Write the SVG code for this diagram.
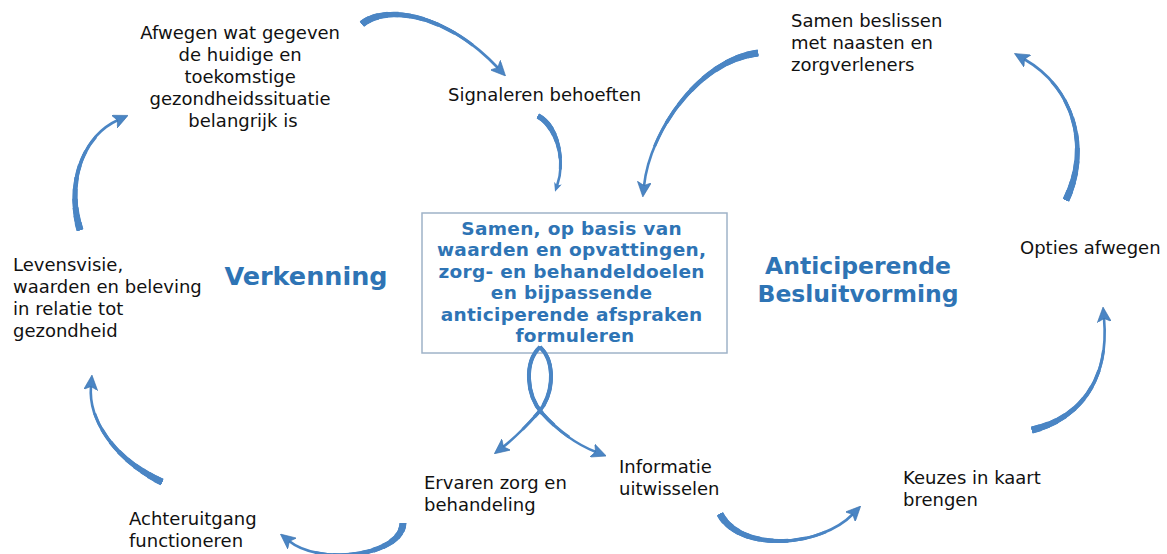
<svg xmlns="http://www.w3.org/2000/svg" width="1167" height="554" viewBox="0 0 1167 554">
<style>
.lbl{font-family:"DejaVu Sans","Liberation Sans",sans-serif;font-size:18px;fill:#111}
.ttl{font-family:"DejaVu Sans","Liberation Sans",sans-serif;font-weight:bold;fill:#2e74b5}
.box{fill:#fff;stroke:#9fb3c8;stroke-width:1.5}
use{fill:none;stroke:#4a85c4}
.a0{stroke-width:2.6;marker-end:url(#ah)}
.as{stroke-width:2.6;marker-end:url(#ahs)}
.t1{stroke-width:7;stroke-dasharray:6 300}
.t2{stroke-width:6.5;stroke-dasharray:12 300}
.t3{stroke-width:6;stroke-dasharray:18 300}
.t4{stroke-width:5.5;stroke-dasharray:25 300}
.t5{stroke-width:5;stroke-dasharray:33 300}
.t6{stroke-width:4.5;stroke-dasharray:42 300}
.t7{stroke-width:4;stroke-dasharray:52 300}
.t8{stroke-width:3.5;stroke-dasharray:64 300}
.t9{stroke-width:3;stroke-dasharray:78 300}
</style>
<defs>
<marker id="ah" markerUnits="userSpaceOnUse" markerWidth="15" markerHeight="14" refX="4" refY="7" orient="auto" viewBox="0 0 15 14">
<path d="M0,0 L15,7 L0,14 L3.5,7 Z" fill="#4a85c4" stroke="#3b72ad" stroke-width="0.6"/>
</marker>
<marker id="ahs" markerUnits="userSpaceOnUse" markerWidth="9" markerHeight="8" refX="3" refY="4" orient="auto" viewBox="0 0 9 8">
<path d="M0,0 L9,4 L0,8 L2.5,4 Z" fill="#4a85c4"/>
</marker>
<path id="pA" pathLength="100" d="M362,24 C385,5 445,12 498,68"/>
<path id="pB" pathLength="100" d="M538,116 C557,126 566,160 557,186"/>
<path id="pC" pathLength="100" d="M758,53 C700,60 650,130 644,186"/>
<path id="pD" pathLength="100" d="M1066,200 C1090,150 1076,89 1024,59"/>
<path id="pE" pathLength="100" d="M1032,430 C1075,420 1110,385 1104,318"/>
<path id="pF" pathLength="100" d="M720,514 C740,552 820,548 853,514"/>
<path id="pG" pathLength="100" d="M403,523 C402,556 320,566 289,541"/>
<path id="pH" pathLength="100" d="M162,482 C115,460 88,420 91,386"/>
<path id="pI" pathLength="100" d="M80,230 C65,180 85,135 118,120"/>
<path id="pJ1" pathLength="100" d="M540,347 C524,362 526,395 542,413 C558,431 578,445 596,452"/>
<path id="pJ2" pathLength="100" d="M540,347 C556,362 554,395 538,413 C522,431 512,440 503,447"/>
</defs>

<g id="connectors">
<g id="arrowA"><use href="#pA" class="a0"/><use href="#pA" class="t9"/><use href="#pA" class="t8"/><use href="#pA" class="t7"/><use href="#pA" class="t6"/><use href="#pA" class="t5"/><use href="#pA" class="t4"/><use href="#pA" class="t3"/><use href="#pA" class="t2"/><use href="#pA" class="t1"/></g>
<g id="arrowB"><use href="#pB" class="as"/><use href="#pB" class="t9"/><use href="#pB" class="t8"/><use href="#pB" class="t7"/><use href="#pB" class="t6"/><use href="#pB" class="t5"/><use href="#pB" class="t4"/></g>
<g id="arrowC"><use href="#pC" class="a0"/><use href="#pC" class="t9"/><use href="#pC" class="t8"/><use href="#pC" class="t7"/><use href="#pC" class="t6"/><use href="#pC" class="t5"/><use href="#pC" class="t4"/><use href="#pC" class="t3"/><use href="#pC" class="t2"/><use href="#pC" class="t1"/></g>
<g id="arrowD"><use href="#pD" class="a0"/><use href="#pD" class="t9"/><use href="#pD" class="t8"/><use href="#pD" class="t7"/><use href="#pD" class="t6"/><use href="#pD" class="t5"/><use href="#pD" class="t4"/><use href="#pD" class="t3"/><use href="#pD" class="t2"/><use href="#pD" class="t1"/></g>
<g id="arrowE"><use href="#pE" class="a0"/><use href="#pE" class="t9"/><use href="#pE" class="t8"/><use href="#pE" class="t7"/><use href="#pE" class="t6"/><use href="#pE" class="t5"/><use href="#pE" class="t4"/><use href="#pE" class="t3"/><use href="#pE" class="t2"/><use href="#pE" class="t1"/></g>
<g id="arrowF"><use href="#pF" class="a0"/><use href="#pF" class="t9"/><use href="#pF" class="t8"/><use href="#pF" class="t7"/><use href="#pF" class="t6"/><use href="#pF" class="t5"/><use href="#pF" class="t4"/><use href="#pF" class="t3"/><use href="#pF" class="t2"/><use href="#pF" class="t1"/></g>
<g id="arrowG"><use href="#pG" class="a0"/><use href="#pG" class="t9"/><use href="#pG" class="t8"/><use href="#pG" class="t7"/><use href="#pG" class="t6"/><use href="#pG" class="t5"/><use href="#pG" class="t4"/><use href="#pG" class="t3"/><use href="#pG" class="t2"/><use href="#pG" class="t1"/></g>
<g id="arrowH"><use href="#pH" class="a0"/><use href="#pH" class="t9"/><use href="#pH" class="t8"/><use href="#pH" class="t7"/><use href="#pH" class="t6"/><use href="#pH" class="t5"/><use href="#pH" class="t4"/><use href="#pH" class="t3"/><use href="#pH" class="t2"/><use href="#pH" class="t1"/></g>
<g id="arrowI"><use href="#pI" class="a0"/><use href="#pI" class="t9"/><use href="#pI" class="t8"/><use href="#pI" class="t7"/><use href="#pI" class="t6"/><use href="#pI" class="t5"/><use href="#pI" class="t4"/><use href="#pI" class="t3"/><use href="#pI" class="t2"/><use href="#pI" class="t1"/></g>
</g>

<g id="center">
<rect class="box" x="422" y="213" width="305" height="140"/>
<text class="ttl" font-size="18.5" letter-spacing="0.3" text-anchor="middle">
<tspan x="575" y="235">Samen, op basis van</tspan>
<tspan x="575" y="256.4">waarden en opvattingen,</tspan>
<tspan x="575" y="277.8">zorg- en behandeldoelen</tspan>
<tspan x="575" y="299.2">en bijpassende</tspan>
<tspan x="575" y="320.6">anticiperende afspraken</tspan>
<tspan x="575" y="342">formuleren</tspan>
</text>
</g>

<g id="connectors-loop">
<g id="arrowJ1"><use href="#pJ1" class="a0"/><use href="#pJ1" class="t9"/><use href="#pJ1" class="t8"/><use href="#pJ1" class="t7"/></g>
<g id="arrowJ2"><use href="#pJ2" class="a0"/><use href="#pJ2" class="t9"/><use href="#pJ2" class="t8"/><use href="#pJ2" class="t7"/></g>
</g>

<g id="verkenning"><text class="ttl" font-size="25.5" x="306" y="285" text-anchor="middle">Verkenning</text></g>
<g id="anticiperende"><text class="ttl" font-size="23.5" text-anchor="middle"><tspan x="858" y="274">Anticiperende</tspan><tspan x="858" y="302">Besluitvorming</tspan></text></g>

<g id="afwegen"><text class="lbl" text-anchor="middle">
<tspan x="243" y="39">Afwegen wat gegeven</tspan>
<tspan x="243" y="61">de huidige en</tspan>
<tspan x="243" y="83">toekomstige</tspan>
<tspan x="243" y="105">gezondheidssituatie</tspan>
<tspan x="243" y="127">belangrijk is</tspan>
</text></g>
<g id="signaleren"><text class="lbl" x="448" y="101">Signaleren behoeften</text></g>
<g id="samen"><text class="lbl">
<tspan x="791" y="27">Samen beslissen</tspan>
<tspan x="791" y="49">met naasten en</tspan>
<tspan x="791" y="71">zorgverleners</tspan>
</text></g>
<g id="opties"><text class="lbl" x="1020" y="254">Opties afwegen</text></g>
<g id="keuzes"><text class="lbl"><tspan x="903" y="484">Keuzes in kaart</tspan><tspan x="903" y="506">brengen</tspan></text></g>
<g id="informatie"><text class="lbl"><tspan x="619" y="473">Informatie</tspan><tspan x="619" y="495">uitwisselen</tspan></text></g>
<g id="ervaren"><text class="lbl"><tspan x="424" y="489">Ervaren zorg en</tspan><tspan x="424" y="511">behandeling</tspan></text></g>
<g id="achteruitgang"><text class="lbl"><tspan x="129" y="525">Achteruitgang</tspan><tspan x="129" y="547">functioneren</tspan></text></g>
<g id="levensvisie"><text class="lbl">
<tspan x="13" y="271">Levensvisie,</tspan>
<tspan x="13" y="293">waarden en beleving</tspan>
<tspan x="13" y="315">in relatie tot</tspan>
<tspan x="13" y="337">gezondheid</tspan>
</text></g>
</svg>
